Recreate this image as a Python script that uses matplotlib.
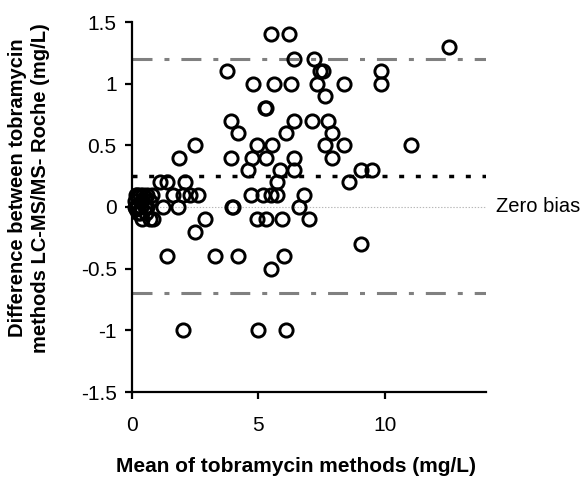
import matplotlib
matplotlib.use("Agg")
import matplotlib.pyplot as plt
import numpy as np

plt.rcParams['font.family'] = ['Liberation Sans', 'DejaVu Sans']
plt.rcParams['lines.scale_dashes'] = False

# Mean of methods (x) and difference (y)
mean_vals = [
    0.10, 0.15, 0.20, 0.25, 0.30, 0.30, 0.35, 0.40, 0.40, 0.45, 0.50, 0.50,
    0.55, 0.60, 0.60, 0.20, 0.25, 0.70, 0.15, 0.70, 0.85, 0.80, 0.10,
    1.10, 1.40, 2.10, 1.84, 2.50,
    1.64, 2.03, 2.30, 2.60,
    1.24, 1.80,
    2.90, 2.50,
    1.40, 3.30, 4.20, 6.00, 5.50,
    2.00, 5.00, 6.10,
    3.95, 4.00,
    3.90, 4.75, 5.30, 6.40, 7.90,
    4.60, 5.85, 6.40, 9.05, 9.50,
    5.75, 8.60,
    4.70, 5.20, 5.50, 5.75, 6.80,
    6.60,
    4.95, 5.30, 5.95, 7.00,
    9.05,
    4.20, 6.10, 7.90,
    3.90, 6.40, 7.10, 7.75,
    5.25, 5.30,
    7.65,
    4.80, 5.60, 6.30, 7.30, 8.40, 9.85,
    3.75, 7.45, 7.55, 9.85,
    6.40, 7.20,
    5.50, 6.20,
    12.55,
    4.95, 5.55, 7.65, 8.40, 11.05,
]
diff_vals = [
    0.05, 0.10, 0.00, 0.08, -0.05, 0.10, 0.00, 0.05, -0.10, 0.10, 0.00, 0.08,
    -0.05, 0.10, 0.00, 0.10, -0.05, 0.05, -0.02, -0.10, -0.10, 0.10, 0.00,
    0.20, 0.20, 0.20, 0.40, 0.50,
    0.10, 0.10, 0.10, 0.10,
    0.00, 0.00,
    -0.10, -0.20,
    -0.40, -0.40, -0.40, -0.40, -0.50,
    -1.00, -1.00, -1.00,
    0.00, 0.00,
    0.40, 0.40, 0.40, 0.40, 0.40,
    0.30, 0.30, 0.30, 0.30, 0.30,
    0.20, 0.20,
    0.10, 0.10, 0.10, 0.10, 0.10,
    0.00,
    -0.10, -0.10, -0.10, -0.10,
    -0.30,
    0.60, 0.60, 0.60,
    0.70, 0.70, 0.70, 0.70,
    0.80, 0.80,
    0.90,
    1.00, 1.00, 1.00, 1.00, 1.00, 1.00,
    1.10, 1.10, 1.10, 1.10,
    1.20, 1.20,
    1.40, 1.40,
    1.30,
    0.50, 0.50, 0.50, 0.50, 0.50,
]

mean_bias = 0.25
upper_loa = 1.2
lower_loa = -0.7

x_ticks = [0, 5, 10]
y_ticks = [-1.5, -1, -0.5, 0, 0.5, 1, 1.5]
y_ticklabels = ["-1.5", "-1", "-0.5", "0", "0.5", "1", "1.5"]

fig = plt.figure(figsize=(5.88, 4.78), dpi=100)
ax = fig.add_axes([132/588, 86/478, 354/588, 370/478])

ax.axhline(0, color='#b8b8b8', lw=0.8, ls=(0, (1, 1.2)), zorder=1)
ax.axhline(upper_loa, color='#808080', lw=2.2, ls=(0, (14.4, 8.6, 3.6, 8.6)), zorder=1)
ax.axhline(lower_loa, color='#808080', lw=2.2, ls=(0, (14.4, 8.6, 3.6, 8.6)), zorder=1)
ax.axhline(mean_bias, color='black', lw=2.5, ls=(0, (3.6, 8.4)), zorder=1)

ax.plot(mean_vals, diff_vals, ls='none', marker='o', ms=9.5, mfc='none',
        mec='black', mew=2.1, zorder=3, clip_on=False)

ax.set_xlim(0, 14)
ax.set_ylim(-1.5, 1.5)
ax.set_xticks(x_ticks)
ax.set_yticks(y_ticks)
ax.set_yticklabels(y_ticklabels)
ax.spines['top'].set_visible(False)
ax.spines['right'].set_visible(False)
for s in ['left', 'bottom']:
    ax.spines[s].set_linewidth(1.6)
ax.tick_params(axis='both', direction='out', length=5, width=1.6, labelsize=15)
ax.tick_params(axis='x', pad=12)
ax.tick_params(axis='y', pad=6)

fig.text(296/588, 1 - 466/478, "Mean of tobramycin methods (mg/L)", ha='center', va='center',
         fontsize=15, fontweight='bold')
fig.text(18/588, 1 - 188/478, "Difference between tobramycin", ha='center', va='center',
         rotation=90, fontsize=14.5, fontweight='bold')
fig.text(41/588, 1 - 188/478, "methods LC-MS/MS- Roche (mg/L)", ha='center', va='center',
         rotation=90, fontsize=14.5, fontweight='bold')
ax.text(14.4, 0, "Zero bias", ha='left', va='center', fontsize=14.5, clip_on=False)

fig.savefig("out.png", dpi=100)
